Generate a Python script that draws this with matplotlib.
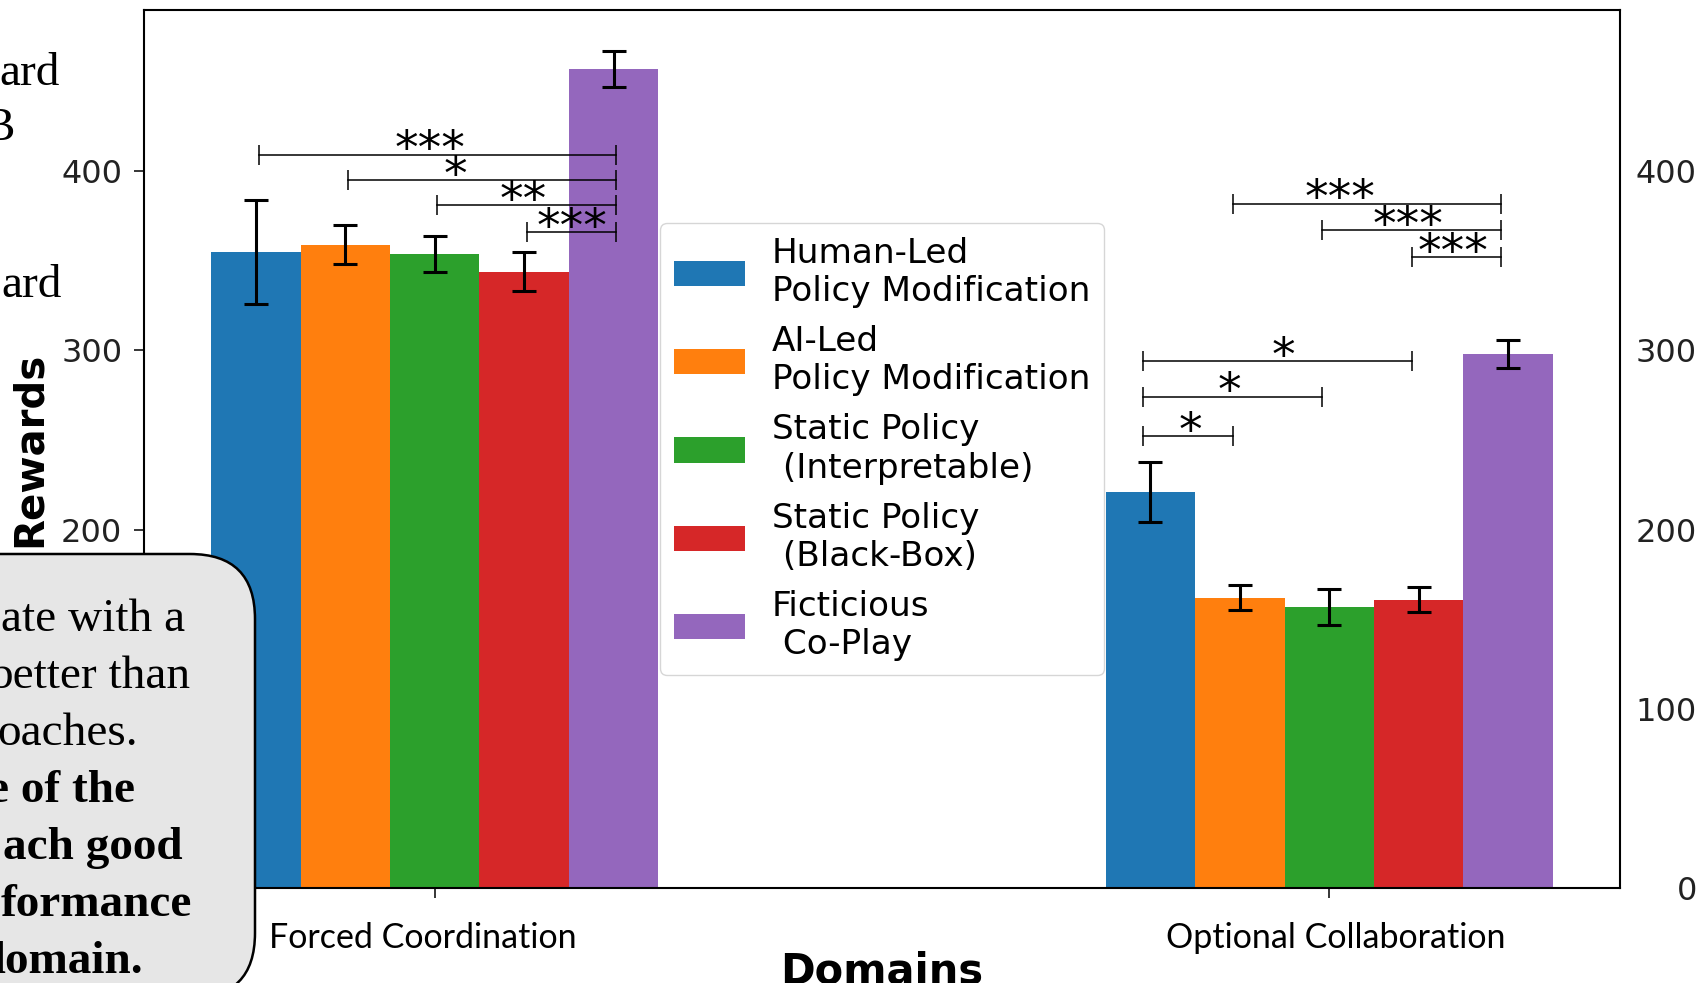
import numpy as np
import matplotlib.pyplot as plt
from matplotlib.patches import FancyBboxPatch
from matplotlib.transforms import ScaledTranslation

# data
domains = ['Forced Coordination', 'Optional Collaboration']
methods = ['Human-Led\nPolicy Modification', 'AI-Led\nPolicy Modification',
           'Static Policy\n (Interpretable)', 'Static Policy\n (Black-Box)',
           'Ficticious\n Co-Play']
colors = ['#1f77b4', '#ff7f0e', '#2ca02c', '#d62728', '#9467bd']

mean_fc = [355, 359, 354, 344, 457]
err_fc = [29, 11, 10, 11, 10]
mean_oc = [221, 162, 157, 161, 298]
err_oc = [17, 7, 10, 7, 8]

# significance brackets: domain, left bar, right bar, height, stars
sig_domain = [0, 0, 0, 0, 1, 1, 1, 1, 1, 1]
sig_left = [0, 1, 2, 3, 1, 2, 3, 0, 0, 0]
sig_right = [4, 4, 4, 4, 4, 4, 4, 3, 2, 1]
sig_height = [409, 395, 381, 366, 382, 367, 352, 294, 274, 252]
sig_stars = ['***', '*', '**', '***', '***', '***', '***', '*', '*', '*']
sig_text_dx = [-0.008, -0.03, -0.004, 0, -0.03, -0.004, -0.004, 0.007, -0.004, 0.003]

yticks = [0, 100, 200, 300, 400]

# slide text pieces that overlap the chart (cut off at the left)
top_text = ['ard', 'B', 'ard']
box_text = ['ate with a', 'better than', 'oaches.', 'e of the', 'ach good', 'formance', 'lomain.']
box_bold = [False, False, False, True, True, True, True]

W, H = 1701, 983
plt.rcParams['font.family'] = ['DejaVu Sans']
fig = plt.figure(figsize=(W / 100, H / 100), dpi=100)
ax = fig.add_axes([144 / W, 1 - 888 / H, (1620 - 144) / W, (888 - 10) / H])

x = np.arange(len(domains))
width = 0.1
for i in range(len(methods)):
    ax.bar(x + (i - 2) * width, [mean_fc[i], mean_oc[i]], width,
           yerr=[err_fc[i], err_oc[i]], color=colors[i], label=methods[i],
           capsize=8.3, error_kw=dict(elinewidth=2.2, capthick=2.2, ecolor='black'))

# significance lines (brackets in the second domain sit a little to the left)
group_shift = [0.003, -0.008]
for d, i, j, h, s, dx in zip(sig_domain, sig_left, sig_right, sig_height, sig_stars, sig_text_dx):
    x1 = x[d] + (i - 2) * width + group_shift[d]
    x2 = x[d] + (j - 2) * width + group_shift[d]
    ax.plot([x1, x2], [h, h], color='black', lw=1.1, marker='|',
            markersize=13.7, markeredgewidth=1.1)
    ax.annotate(s, xy=((x1 + x2) / 2 + dx, h), xytext=(0, -6),
                textcoords='offset points', ha='center', va='baseline', fontsize=34)

ax.set_xlim(-0.325, 1.325)
ax.set_ylim(0, 490)
ax.set_yticks(yticks)
ax.set_xticks(x, domains)
for sp in ax.spines.values():
    sp.set_linewidth(1.5)
ax.tick_params(axis='y', length=7.2, width=1.1, pad=8.5, labelsize=23, labelcolor='#222222')
ax.tick_params(axis='x', length=7.2, width=1.1, pad=17, labelsize=24.5)
for lab, dx in zip(ax.get_xticklabels(), [-12, 6]):
    lab.set_fontfamily('Lato')
    lab.set_transform(lab.get_transform() + ScaledTranslation(dx / 100, 0, fig.dpi_scale_trans))

ax.set_xlabel('Domains', fontsize=30, fontweight='bold', labelpad=-2)
ax.set_ylabel('Rewards', fontsize=29, fontweight='bold', labelpad=8)

ax.legend(loc='center', fontsize=24.7, handlelength=2.07, handleheight=0.76)

# labels repeated on the right
ax2 = ax.twinx()
ax2.set_ylim(ax.get_ylim())
ax2.set_yticks(yticks)
ax2.tick_params(axis='y', length=0, pad=55.4, labelsize=23, labelcolor='#222222')
plt.setp(ax2.get_yticklabels(), ha='right')
for sp in ax2.spines.values():
    sp.set_visible(False)

# overlay in pixel units for the slide parts
ov = fig.add_axes([0, 0, 1, 1], zorder=10)
ov.set_xlim(0, W)
ov.set_ylim(H, 0)
ov.axis('off')
ov.patch.set_visible(False)

for s, xr, yb in zip(top_text, [60, 15, 62], [85, 140, 297]):
    ov.text(xr, yb, s, ha='right', va='baseline', fontsize=34, family='Liberation Serif')

ov.add_patch(FancyBboxPatch((-200, 554), 455, 444, boxstyle='round,pad=0,rounding_size=65',
                            fc='#e6e6e6', ec='black', lw=1.8))
for k, (s, b, xr) in enumerate(zip(box_text, box_bold, [185, 190, 138, 135, 183, 192, 143])):
    ov.text(xr, 631 + 57 * k, s, ha='right', va='baseline', fontsize=34,
            family='Liberation Serif', fontweight='bold' if b else 'normal')

fig.savefig('out.png', dpi=100)
